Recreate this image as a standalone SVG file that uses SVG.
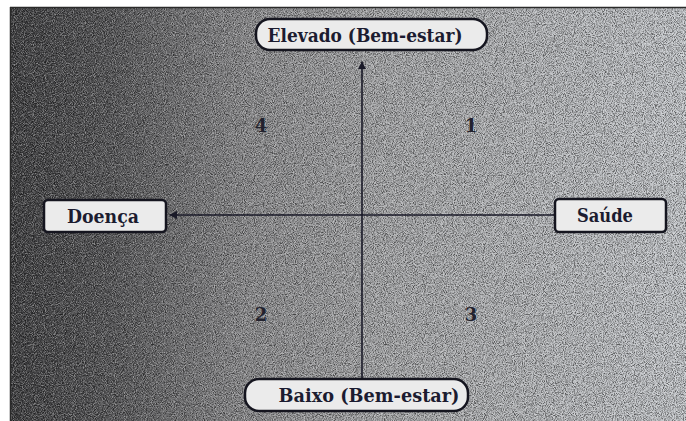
<svg xmlns="http://www.w3.org/2000/svg" width="686" height="421" viewBox="0 0 686 421">
  <defs>
    <linearGradient id="bg" x1="0" y1="0" x2="1" y2="0">
      <stop offset="0" stop-color="#3a3a3c"/>
      <stop offset="0.15" stop-color="#535355"/>
      <stop offset="0.35" stop-color="#8c8c8e"/>
      <stop offset="0.55" stop-color="#a8a9ab"/>
      <stop offset="1" stop-color="#c6c9cd"/>
    </linearGradient>
    <filter id="noise" x="0" y="0" width="100%" height="100%" filterUnits="objectBoundingBox">
      <feTurbulence type="fractalNoise" baseFrequency="1.1" numOctaves="1" seed="3" result="t"/>
      <feColorMatrix in="t" type="matrix" values="0 0 0 0 0  0 0 0 0 0  0 0 0 0 0  3 0 0 0 -1.2" result="dark"/>
      <feComposite in="dark" in2="SourceGraphic" operator="in"/>
    </filter>
    <filter id="noise2" x="0" y="0" width="100%" height="100%" filterUnits="objectBoundingBox">
      <feTurbulence type="fractalNoise" baseFrequency="1.1" numOctaves="1" seed="9" result="t"/>
      <feColorMatrix in="t" type="matrix" values="0 0 0 0 1  0 0 0 0 1  0 0 0 0 1  3 0 0 0 -1.3" result="light"/>
      <feComposite in="light" in2="SourceGraphic" operator="in"/>
    </filter>
    <marker id="arr" viewBox="0 0 10 10" refX="9" refY="5" markerWidth="8" markerHeight="8" orient="auto" markerUnits="userSpaceOnUse">
      <path d="M0,0 L10,5 L0,10 z" fill="#1a1a28"/>
    </marker>
    <style>
      .box { fill: #ebebeb; stroke: #15151f; stroke-width: 2.5; }
      .lbl { font-family: "DejaVu Serif", "Liberation Serif", serif; font-weight: bold; font-size: 19px; fill: #1c1c30; text-anchor: middle; }
      .num { font-family: "DejaVu Serif", "Liberation Serif", serif; font-weight: bold; font-size: 18px; fill: #22222e; text-anchor: middle; }
      .ax { stroke: #1a1a28; stroke-width: 1.6; fill: none; }
    </style>
  </defs>
  <rect x="0" y="0" width="686" height="421" fill="#ffffff"/>
  <g id="background">
    <rect x="10" y="7" width="676" height="414" fill="url(#bg)"/>
    <rect x="10" y="7" width="676" height="414" fill="#000" filter="url(#noise)" opacity="0.55"/>
    <rect x="10" y="7" width="676" height="414" fill="#fff" filter="url(#noise2)" opacity="0.4"/>
    <line x1="10" y1="7.5" x2="686" y2="7.5" stroke="#2a2a2a" stroke-width="1.5"/>
    <line x1="10.5" y1="7" x2="10.5" y2="421" stroke="#2a2a2a" stroke-width="1.5"/>
  </g>
  <g id="connectors">
    <line class="ax" x1="362" y1="379" x2="362" y2="62" marker-end="url(#arr)"/>
    <line class="ax" x1="555" y1="215" x2="170" y2="215" marker-end="url(#arr)"/>
  </g>
  <g id="node-elevado">
    <rect class="box" x="256" y="19" width="231" height="31" rx="14"/>
    <text class="lbl" x="365" y="42" textLength="195" lengthAdjust="spacingAndGlyphs">Elevado (Bem-estar)</text>
  </g>
  <g id="node-doenca">
    <rect class="box" x="44" y="200" width="122" height="32" rx="4"/>
    <text class="lbl" x="103" y="223" textLength="72" lengthAdjust="spacingAndGlyphs">Doença</text>
  </g>
  <g id="node-saude">
    <rect class="box" x="555" y="199" width="111" height="33" rx="4"/>
    <text class="lbl" x="605" y="222" textLength="56" lengthAdjust="spacingAndGlyphs">Saúde</text>
  </g>
  <g id="node-baixo">
    <rect class="box" x="245" y="379" width="223" height="32" rx="14"/>
    <text class="lbl" x="369" y="402" textLength="181" lengthAdjust="spacingAndGlyphs">Baixo (Bem-estar)</text>
  </g>
  <g id="quadrants">
    <text class="num" x="261" y="132">4</text>
    <text class="num" x="471" y="132">1</text>
    <text class="num" x="261" y="321">2</text>
    <text class="num" x="471" y="321">3</text>
  </g>
</svg>
